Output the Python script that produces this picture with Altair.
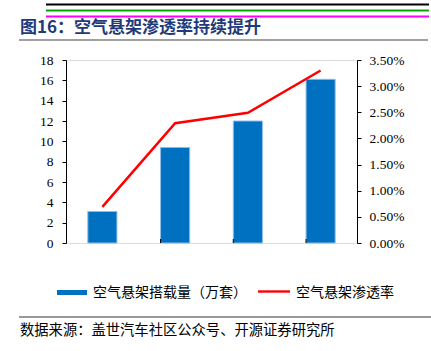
import altair as alt
import pandas as pd

quarters = ["2022Q1", "2023Q1", "2024Q1", "2025Q1"]
volume = [3.1, 9.4, 12.0, 16.1]          # 空气悬架搭载量（万套）
rate = [0.0069, 0.0229, 0.0249, 0.0330]  # 空气悬架渗透率
left_ticks = [0, 2, 4, 6, 8, 10, 12, 14, 16, 18]
right_ticks = [0, 0.005, 0.01, 0.015, 0.02, 0.025, 0.03, 0.035]

title_text = "图16：空气悬架渗透率持续提升"
legend_bar = "空气悬架搭载量（万套）"
legend_line = "空气悬架渗透率"
source_text = "数据来源：盖世汽车社区公众号、开源证券研究所"

df = pd.DataFrame({"q": quarters, "v": volume, "r": rate})
inner_df = pd.DataFrame({"q": quarters[1:]})

W, H = 291, 183
SERIF = "Liberation Serif"
CJK = "Noto Sans CJK SC"

xscale = alt.Scale(paddingInner=0.6, paddingOuter=0.3)
xaxis = alt.Axis(title=None, ticks=False, labelPadding=10, labelAngle=0)

bars = alt.Chart(df).mark_bar(color="#0070C0", stroke="#8FBCE8", strokeWidth=1).encode(
    x=alt.X("q:N", sort=quarters, scale=xscale, axis=xaxis),
    y=alt.Y("v:Q", scale=alt.Scale(domain=[0, 18], nice=False),
            axis=alt.Axis(title=None, values=left_ticks, labelPadding=9)),
)

line = alt.Chart(df).mark_line(color="#FF0000", strokeWidth=2.5).encode(
    x=alt.X("q:N", sort=quarters, scale=xscale, axis=xaxis),
    y=alt.Y("r:Q", scale=alt.Scale(domain=[0, 0.035], nice=False),
            axis=alt.Axis(title=None, orient="right", values=right_ticks, format=".2%",
                          labelPadding=8)),
)

inner_ticks = alt.Chart(inner_df).mark_rule(color="black", strokeWidth=1).encode(
    x=alt.X("q:N", sort=quarters, scale=xscale, bandPosition=0, axis=None),
    y=alt.value(H - 4),
    y2=alt.value(H),
)

one = pd.DataFrame({"t": [0]})

def txt(s, x, y, size, color="black", weight="normal"):
    return alt.Chart(pd.DataFrame({"t": [s]})).mark_text(
        align="left", baseline="middle", font=CJK, fontSize=size,
        color=color, fontWeight=weight
    ).encode(x=alt.value(x), y=alt.value(y), text="t:N")

def hbar(x1, x2, y1, y2, color):
    return alt.Chart(one).mark_rect(color=color).encode(
        x=alt.value(x1), x2=alt.value(x2), y=alt.value(y1), y2=alt.value(y2))

deco = [
    txt(title_text, -46, -32, 17, "#1F3A7A", "bold"),
    hbar(-47, 362, -21, -19, "#A0A0A0"),
    hbar(-9, 21, 230, 235, "#0070C0"),
    txt(legend_bar, 27, 232.5, 14),
    hbar(192, 224, 230.3, 232.7, "#FF0000"),
    txt(legend_line, 230, 232.5, 14),
    hbar(-47, 365, 256.5, 257.5, "#333333"),
    txt(source_text, -46, 271, 14.3),
    hbar(-20, 363, -56.5, -54.5, "#000000"),
    hbar(-20, 363, -50.5, -48.5, "#00AA00"),
    hbar(-20, 363, -44.5, -42.5, "#FF00FF"),
]

main = alt.layer(bars, line).resolve_scale(y="independent")

chart = alt.layer(main, inner_ticks, *deco).properties(
    width=W, height=H,
    autosize=alt.AutoSizeParams(type="none"),
    padding={"left": 66, "top": 60, "right": 74, "bottom": 108},
).configure_view(stroke=None).configure(background="white").configure_axis(
    labelFont=SERIF, labelFontSize=13.5, labelColor="black", grid=False,
    tickSize=4, tickColor="black", domainColor="black", domainWidth=1,
)

chart.save("out.html", embed_options={"renderer": "svg", "actions": False})
